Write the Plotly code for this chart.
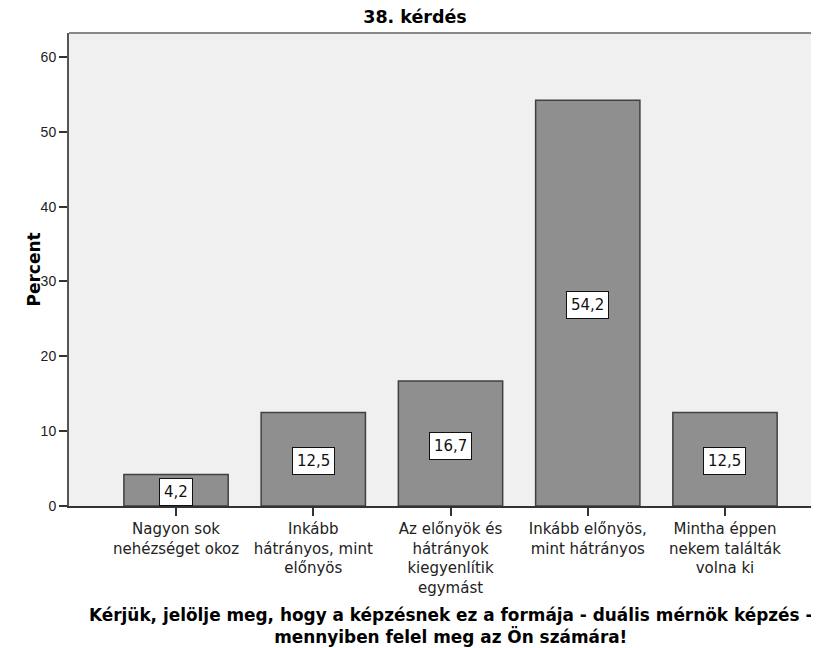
import plotly.graph_objects as go

# answer categories (tick labels) and their percentages
categories = [
    "Nagyon sok<br>nehézséget okoz",
    "Inkább<br>hátrányos, mint<br>előnyös",
    "Az előnyök és<br>hátrányok<br>kiegyenlítik<br>egymást",
    "Inkább előnyös,<br>mint hátrányos",
    "Mintha éppen<br>nekem találták<br>volna ki",
]
percent = [4.2, 12.5, 16.7, 54.2, 12.5]

chart_title = "38. kérdés"
x_title = ("Kérjük, jelölje meg, hogy a képzésnek ez a formája - duális mérnök képzés -"
           "<br>mennyiben felel meg az Ön számára!")
y_title = "Percent"

# the page body has an 8px margin, so the figure is drawn 8px smaller
OFF = 8
W, H = 819 - OFF, 648 - OFF
ML, MR, MT, MB = 69 - OFF, 0, 33 - OFF, 142
plot_h = H - MT - MB
plot_w = W - ML - MR
plot_bottom = H - MB

fig = go.Figure()
fig.add_trace(go.Bar(
    x=categories,
    y=percent,
    width=0.76,
    marker=dict(color="#8f8f8f", line=dict(color="#404040", width=1.5)),
    hoverinfo="skip",
))

# value labels in white boxes, in the middle of each bar
for cat, val in zip(categories, percent):
    fig.add_annotation(
        x=cat, y=val / 2, xref="x", yref="y",
        text=f"{val:.1f}".replace(".", ","),
        showarrow=False, yshift=-2,
        font=dict(family="DejaVu Sans", size=15, color="#111111"),
        bgcolor="white", bordercolor="#111111", borderwidth=1, borderpad=4,
    )

# axis titles
fig.add_annotation(
    x=(450 - OFF - ML) / plot_w, y=-(626 - OFF - plot_bottom) / plot_h,
    xref="paper", yref="paper",
    text=x_title, showarrow=False, yanchor="middle",
    font=dict(family="DejaVu Sans", size=16.9, color="black", weight="bold"),
)
fig.add_annotation(
    x=(21 - OFF - ML) / plot_w, y=0.5, xref="paper", yref="paper",
    text=y_title, showarrow=False, textangle=-90,
    font=dict(family="DejaVu Sans", size=17, color="black", weight="bold"),
)

# top frame line
fig.add_shape(type="line", xref="paper", yref="paper", x0=0, x1=1, y0=1, y1=1,
              line=dict(color="#888888", width=2))

fig.update_layout(
    width=W, height=H,
    margin=dict(l=ML, r=MR, t=MT, b=MB),
    paper_bgcolor="white",
    plot_bgcolor="#f0f0f0",
    showlegend=False,
    title=dict(text=chart_title, x=(415 - OFF) / W, xref="container", xanchor="center",
               y=1 - (17 - OFF) / H, yref="container", yanchor="middle",
               font=dict(family="DejaVu Sans", size=17.5, color="black", weight="bold")),
    xaxis=dict(
        range=[-0.78, 4.685],
        showgrid=False, zeroline=False,
        showline=True, linecolor="#333333", linewidth=2,
        ticks="outside", ticklen=8, tickwidth=2, tickcolor="#333333",
        tickfont=dict(family="DejaVu Sans", size=15, color="#222222"),
    ),
    yaxis=dict(
        range=[0, 63.2],
        tickvals=[0, 10, 20, 30, 40, 50, 60],
        showgrid=False, zeroline=False,
        showline=True, linecolor="#555555", linewidth=2,
        ticks="outside", ticklen=8, tickwidth=2, tickcolor="#333333",
        tickfont=dict(family="Liberation Sans", size=14, color="#222222"),
    ),
)

fig.write_html("out.html")
